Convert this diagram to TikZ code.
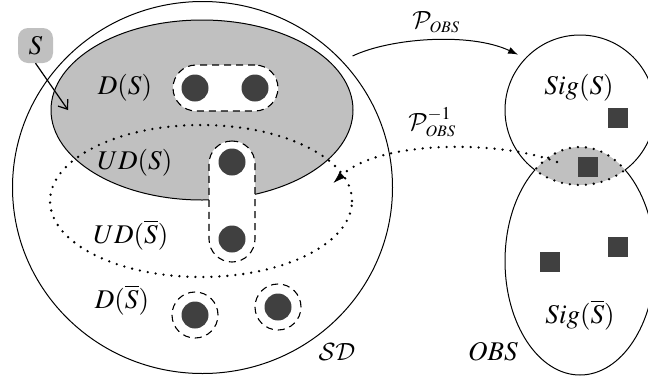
\documentclass[tikz,border=0pt]{standalone}
\usepackage{mathptmx}
\DeclareMathAlphabet{\mathcal}{OMS}{cmsy}{m}{n}
\usetikzlibrary{arrows.meta,shapes.geometric}
\DeclareMathSizes{27}{27}{18}{16}
\definecolor{greyfill}{HTML}{C0C0C0}
\definecolor{ink}{HTML}{404040}
\newcommand{\obs}{{\scriptscriptstyle OBS}}
\begin{document}
\begin{tikzpicture}[x=1pt,y=-1pt,
  every node/.style={font=\fontsize{27}{32}\selectfont},
  outline/.style={line width=1pt},
  dotline/.style={line width=2.6pt, line cap=round, dash pattern=on 0pt off 8pt},
  dashline/.style={line width=1.1pt, dash pattern=on 7pt off 5pt},
  pill/.style={rectangle, rounded corners=23pt, draw, dashline, fill=white, inner sep=0pt},
  ring/.style={circle, draw, dashline, minimum size=46pt, inner sep=0pt},
  element/.style={circle, fill=ink, minimum size=27pt, inner sep=0pt},
  signal/.style={rectangle, fill=ink, minimum size=20pt, inner sep=0pt},
  region/.style={ellipse, inner sep=0pt, outer sep=0pt},
  ]
\useasboundingbox (0,0) rectangle (648,381);

% ---------- state domain ----------
\node[region, draw, outline, minimum width=380pt, minimum height=372pt] (SD) at (202.5,187.5) {};
\node[region, draw, outline, fill=greyfill, minimum width=302pt, minimum height=180pt] (DS) at (202,110) {};

\node[pill, minimum width=105pt, minimum height=46pt] (pairD) at (225.5,88) {};
\node[pill, minimum width=46pt, minimum height=121pt] (pairU) at (232,201.5) {};
\node[ring] (ring1) at (195,315) {};
\node[ring] (ring2) at (278,307) {};

\node[region, draw, dotline, minimum width=302pt, minimum height=152pt] (UD) at (201,201) {};

\node[element] (e1) at (195,88) {};
\node[element] (e2) at (255,88) {};
\node[element] (e3) at (232,162) {};
\node[element] (e4) at (232,239) {};
\node[element] (e5) at (195,315) {};
\node[element] (e6) at (278,307) {};

\node (lDS)  at (125,88)  {$D(S)$};
\node (lUDS) at (135,163) {$UD(S)$};
\node (lUDN) at (131,235) {$UD(\overline{S})$};
\node (lDN)  at (122,300) {$D(\overline{S})$};
\node (lSD)  at (337,352) {$\mathcal{SD}$};

\node[rectangle, rounded corners=10pt, fill=greyfill, minimum size=35pt, inner sep=0pt] (S) at (35.5,45.5) {$S$};
\coordinate (aim) at (68,110);
\draw[line width=1.2pt, -{Straight Barb[length=8pt,width=12pt]}] (S.south) -- (aim);

% ---------- observation space ----------
\node[circle, minimum size=150pt, inner sep=0pt] (Sig) at (580,110) {};
\node[region, minimum width=150pt, minimum height=228pt] (OBS) at (580,261) {};

% overlap of the two sets: grey, with a dotted border
\begin{scope}
  \clip (580,110) circle[radius=75];
  \fill[greyfill] (580,261) ellipse[x radius=75, y radius=114];
  \draw[dotline] (580,261) ellipse[x radius=75, y radius=114];
\end{scope}
\begin{scope}
  \clip (580,261) ellipse[x radius=75, y radius=114];
  \draw[dotline] (580,110) circle[radius=75];
\end{scope}
% solid borders outside the overlap
\begin{scope}[even odd rule]
  \clip (400,-10) rectangle (700,400) (580,261) ellipse[x radius=75, y radius=114];
  \draw[outline] (580,110) circle[radius=75];
\end{scope}
\begin{scope}[even odd rule]
  \clip (400,-10) rectangle (700,400) (580,110) circle[radius=75];
  \draw[outline] (580,261) ellipse[x radius=75, y radius=114];
\end{scope}

\node[signal] (q1) at (618,118) {};
\node[signal] (q2) at (588,167) {};
\node[signal] (q3) at (550,262) {};
\node[signal] (q4) at (618,247) {};

\node (lSig)  at (579,88)  {$Sig(S)$};
\node (lSigN) at (580,315) {$Sig(\overline{S})$};
\node (lOBS)  at (493,352) {$OBS$};

% ---------- mappings ----------
\draw[outline, -{Latex[length=10pt,width=7pt]}]
  ([xshift=8pt,yshift=8pt]SD.41) .. controls (390,38) and (470,32) .. ([xshift=-6pt,yshift=5pt]Sig.138);
\node (lP) at (436,22) {$\mathcal{P}_\obs$};

\coordinate (lensmid) at (557,162);
\draw[dotline, -{Latex[length=12pt,width=8pt,line width=0.5pt]}]
  (lensmid) .. controls (500,140) and (380,140) .. ([xshift=-10pt,yshift=-7pt]UD.10);
\node (lPinv) at (432,122) {$\mathcal{P}_\obs^{-1}$};
\end{tikzpicture}
\end{document}
